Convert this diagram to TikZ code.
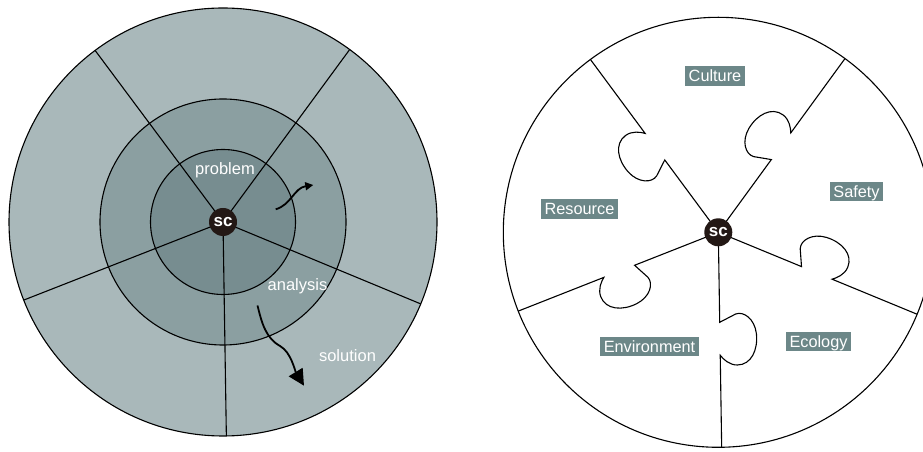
\documentclass[tikz,border=0pt]{standalone}
\usepackage{fontspec}
\setmainfont{Liberation Sans}
\usetikzlibrary{arrows.meta}
\definecolor{ringout}{HTML}{A9B8BA}
\definecolor{ringmid}{HTML}{8B9FA1}
\definecolor{ringin}{HTML}{778D90}
\definecolor{scdark}{HTML}{231815}
\definecolor{tagfill}{HTML}{6C8788}
\begin{document}
\begin{tikzpicture}[x=1pt,y=1pt,
  ring/.style={draw=black, line width=1.1pt},
  spoke/.style={draw=black, line width=1.1pt, line join=miter},
  scnode/.style={circle, fill=scdark, minimum size=28pt, inner sep=0pt, text=white,
    font=\fontsize{17}{17}\selectfont\bfseries},
  ringlabel/.style={text=white, font=\fontsize{16.5}{18}\selectfont, anchor=base, inner sep=0pt},
  tag/.style={fill=tagfill, text=white, font=\fontsize{16.3}{18}\selectfont,
    inner xsep=3.5pt, inner ysep=0pt, text height=15.5pt, text depth=4pt},
  flow/.style={draw=black, line width=1.8pt},
]
\useasboundingbox (0,0) rectangle (923,452);
\clip (0,0) rectangle (923,452);

% ---------- left: layered circle ----------
\coordinate (L) at (223,230);
\fill[ringout] (L) circle (214);
\fill[ringmid] (L) circle (123);
\fill[ringin] (L) circle (72.5);
\foreach \a in {53.7,126.7,201.4,270.9,337.5}
  \draw[spoke] (L) -- ++(\a:214);
\draw[ring] (L) circle (214);
\draw[ring] (L) circle (123);
\draw[ring] (L) circle (72.5);
\node[scnode] (scL) at (L) {sc};

\node[ringlabel] (problem) at (225,277) {problem};
\node[ringlabel] (analysis) at (297.5,161.5) {analysis};
\node[ringlabel] (solution) at (347.5,90) {solution};

\coordinate (a1s) at (275.7,242.7);
\coordinate (a1e) at (313.3,267);
\draw[flow,-{Triangle[length=8pt,width=8pt]}] (a1s) .. controls (291,247) and (294,264) .. (a1e);

\coordinate (a2s) at (257.5,146.5);
\coordinate (a2m) at (280,106);
\coordinate (a2e) at (304,66.3);
\draw[flow,-{Triangle[length=16pt,width=16pt]}] (a2s) .. controls (262,128) and (266,114) .. (a2m)
  .. controls (291,100) and (295,81) .. (a2e);

% ---------- right: puzzle circle ----------
\coordinate (R) at (718.3,219.7);
\draw[ring, fill=white] (R) circle (215);
\foreach \a in {53.9,126.5,201.5,270.9,337.6}
  \draw[spoke, shift={(R)}, rotate=\a]
    (0,0) -- (90,0) -- (82,16) .. controls (79,24) and (87,35) .. (102,36.5)
    .. controls (118,38) and (133,31) .. (133,17)
    .. controls (133,9) and (127,3) .. (123,0) -- (215,0);
\node[scnode] (scR) at (R) {sc};

\node[tag] (culture) at (715,376) {Culture};
\node[tag] (safety) at (856.5,260.5) {Safety};
\node[tag] (resource) at (579.5,243) {Resource};
\node[tag] (environment) at (649.5,105.5) {Environment};
\node[tag] (ecology) at (818.5,110.5) {Ecology};
\end{tikzpicture}
\end{document}
